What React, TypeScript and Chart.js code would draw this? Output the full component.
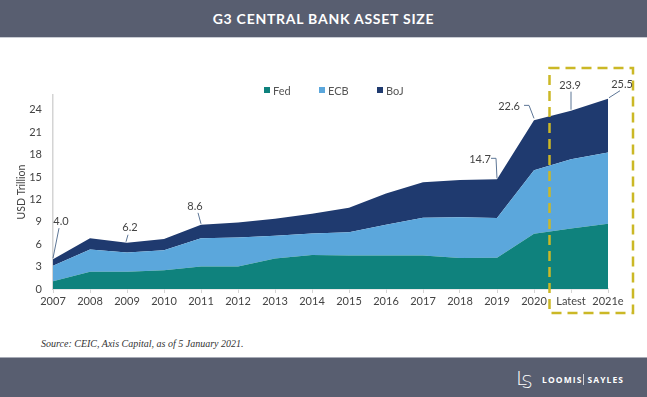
import React, { useEffect, useRef } from "react";
import { Chart, registerables } from "chart.js";

Chart.register(...registerables);

const categories = ["2007", "2008", "2009", "2010", "2011", "2012", "2013", "2014", "2015", "2016", "2017", "2018", "2019", "2020", "Latest", "2021e"];
const fed = [1.05, 2.3, 2.3, 2.5, 3.0, 3.0, 4.1, 4.55, 4.5, 4.5, 4.5, 4.15, 4.2, 7.4, 8.1, 8.75];
const ecb = [2.05, 3.0, 2.6, 2.7, 3.8, 3.9, 3.05, 2.9, 3.1, 4.1, 5.05, 5.45, 5.3, 8.5, 9.3, 9.55];
const boj = [0.9, 1.5, 1.3, 1.5, 1.8, 2.0, 2.25, 2.65, 3.3, 4.2, 4.75, 5.0, 5.2, 6.7, 6.5, 7.2];
const yTicks = [0, 3, 6, 9, 12, 15, 18, 21, 24];
const annotatedIdx = [0, 2, 4, 12, 13, 14, 15];

const COLORS = { fed: "#0f827d", ecb: "#5ba7dc", boj: "#1f3a6f" };
const FONT = "Lato, 'Open Sans', sans-serif";

// label offset (dx, dy) and leader path offsets relative to the stack top
const annotStyle: Record<number, { lx: number; ly: number; path: [number, number][] }> = {
  0: { lx: 8, ly: -38, path: [[6, -31], [0, -1]] },
  2: { lx: 3, ly: -15, path: [[1, -8], [-1, -1]] },
  4: { lx: -6, ly: -18, path: [[-3, -12], [0, -1]] },
  12: { lx: -17, ly: -20, path: [[-6, -21], [-1, -21], [0, -1]] },
  13: { lx: -25, ly: -14, path: [[-10, -15], [-5, -15], [0, -2]] },
  14: { lx: -1, ly: -25, path: [[0, -19], [0, -1]] },
  15: { lx: 14, ly: -14, path: [[12, -8], [1, -1]] },
};

const annotPlugin = {
  id: "annots",
  afterDatasetsDraw(chart: any) {
    const { ctx, chartArea } = chart;
    const xs = chart.scales.x;
    const ys = chart.scales.y;
    ctx.save();
    // dashed highlight box
    const x13 = xs.getPixelForValue(13);
    const x14 = xs.getPixelForValue(14);
    const left = (x13 + x14) / 2 - 3;
    const right = chartArea.right + 25;
    const top = chartArea.top - 27;
    const bottom = chartArea.bottom + 24;
    ctx.strokeStyle = "#cbb826";
    ctx.lineWidth = 2.5;
    ctx.setLineDash([10, 6]);
    ctx.strokeRect(left, top, right - left, bottom - top);
    ctx.setLineDash([]);

    ctx.font = `11px ${FONT}`;
    ctx.fillStyle = "#444";
    ctx.textAlign = "center";
    ctx.textBaseline = "middle";
    annotatedIdx.forEach((i) => {
      const total = fed[i] + ecb[i] + boj[i];
      const px = xs.getPixelForValue(i);
      const py = ys.getPixelForValue(total);
      const st = annotStyle[i];
      ctx.strokeStyle = "#5d7696";
      ctx.lineWidth = 1;
      ctx.beginPath();
      st.path.forEach(([dx, dy], k) => {
        if (k === 0) ctx.moveTo(px + dx, py + dy);
        else ctx.lineTo(px + dx, py + dy);
      });
      ctx.stroke();
      ctx.fillText(total.toFixed(1), px + st.lx, py + st.ly);
    });
    ctx.restore();
  },
};

function ChartBox() {
  const ref = useRef<HTMLCanvasElement>(null);
  useEffect(() => {
    if (!ref.current) return;
    const chart = new Chart(ref.current, {
      type: "line",
      data: {
        labels: categories,
        datasets: [
          { label: "Fed", data: fed, backgroundColor: COLORS.fed, borderColor: COLORS.fed, borderWidth: 0, fill: "origin", pointRadius: 0, tension: 0 },
          { label: "ECB", data: ecb, backgroundColor: COLORS.ecb, borderColor: COLORS.ecb, borderWidth: 0, fill: "-1", pointRadius: 0, tension: 0 },
          { label: "BoJ", data: boj, backgroundColor: COLORS.boj, borderColor: COLORS.boj, borderWidth: 0, fill: "-1", pointRadius: 0, tension: 0 },
        ],
      },
      options: {
        animation: false,
        responsive: false,
        maintainAspectRatio: false,
        layout: { padding: { top: 57, left: 0, right: 39, bottom: 21 } },
        plugins: { legend: { display: false }, tooltip: { enabled: false }, title: { display: false } },
        scales: {
          x: {
            offset: false,
            grid: { display: true, drawOnChartArea: false, drawTicks: true, tickLength: 4, color: "#d4d4d4" },
            border: { display: true, color: "#d4d4d4", width: 1.5 },
            ticks: { color: "#444", font: { family: FONT, size: 11 }, padding: 2, maxRotation: 0, autoSkip: false },
            afterFit: (s: any) => { s.height = 20; },
          },
          y: {
            stacked: true,
            min: 0,
            max: 26,
            grid: { display: false, drawTicks: false },
            border: { display: true, color: "#d4d4d4", width: 1.5 },
            afterBuildTicks: (s: any) => { s.ticks = yTicks.map((v) => ({ value: v })); },
            ticks: { color: "#444", font: { family: FONT, size: 11 }, padding: 11 },
            title: { display: true, text: "USD Trillion", color: "#444", font: { family: FONT, size: 10.5 }, padding: { top: 15, bottom: 0 } },
            afterFit: (s: any) => { s.width = 53; },
          },
        },
      },
      plugins: [annotPlugin],
    });
    return () => chart.destroy();
  }, []);
  return <canvas ref={ref} width={647} height={292} style={{ position: "absolute", left: 0, top: 38, width: 647, height: 292 }} />;
}

function LegendItem({ color, label, left }: { color: string; label: string; left: number }) {
  return (
    <div style={{ position: "absolute", left, top: 83, height: 14, display: "flex", alignItems: "center", font: `11px ${FONT}`, color: "#555" }}>
      <span style={{ display: "inline-block", width: 6, height: 6, background: color, marginRight: 3 }} />
      <span>{label}</span>
    </div>
  );
}

export default function App() {
  return (
    <div style={{ position: "fixed", left: 0, top: 0, width: 647, height: 397, background: "#fff", overflow: "hidden" }}>
      <div style={{ position: "absolute", left: 0, top: 0, width: 647, height: 37, background: "#585e70", borderBottom: "1px solid #c9ccd4", display: "flex", alignItems: "center", justifyContent: "center", color: "#fff", font: `bold 14px ${FONT}`, letterSpacing: 0.75 }}>
        G3 CENTRAL BANK ASSET SIZE
      </div>
      <ChartBox />
      <LegendItem color={COLORS.fed} label="Fed" left={264} />
      <LegendItem color={COLORS.ecb} label="ECB" left={319} />
      <LegendItem color={COLORS.boj} label="BoJ" left={377} />
      <div style={{ position: "absolute", left: 41, top: 338, font: "italic 10px 'Liberation Serif', serif", color: "#333", whiteSpace: "nowrap" }}>
        Source: CEIC, Axis Capital, as of 5 January 2021.
      </div>
      <div style={{ position: "absolute", left: 0, top: 357, width: 647, height: 39, background: "#585e70", borderTop: "1px solid #a7abb6", borderBottom: "1px solid #a7abb6" }}>
        <div style={{ position: "absolute", left: 516, top: 9, color: "#fff", font: "300 20px 'DejaVu Sans', sans-serif", lineHeight: "22px" }}>
          <span>L</span><span style={{ marginLeft: -6, position: "relative", top: 3, fontSize: 18 }}>S</span>
        </div>
        <div style={{ position: "absolute", left: 542, top: 16, color: "#fff", font: "bold 8.5px 'Open Sans', sans-serif", letterSpacing: 1.1, whiteSpace: "nowrap", display: "flex", alignItems: "center" }}>
          <span>LOOMIS</span>
          <span style={{ display: "inline-block", width: 1, height: 11, background: "#d0d3da", margin: "0 3px 0 1px" }} />
          <span>SAYLES</span>
        </div>
      </div>
    </div>
  );
}
